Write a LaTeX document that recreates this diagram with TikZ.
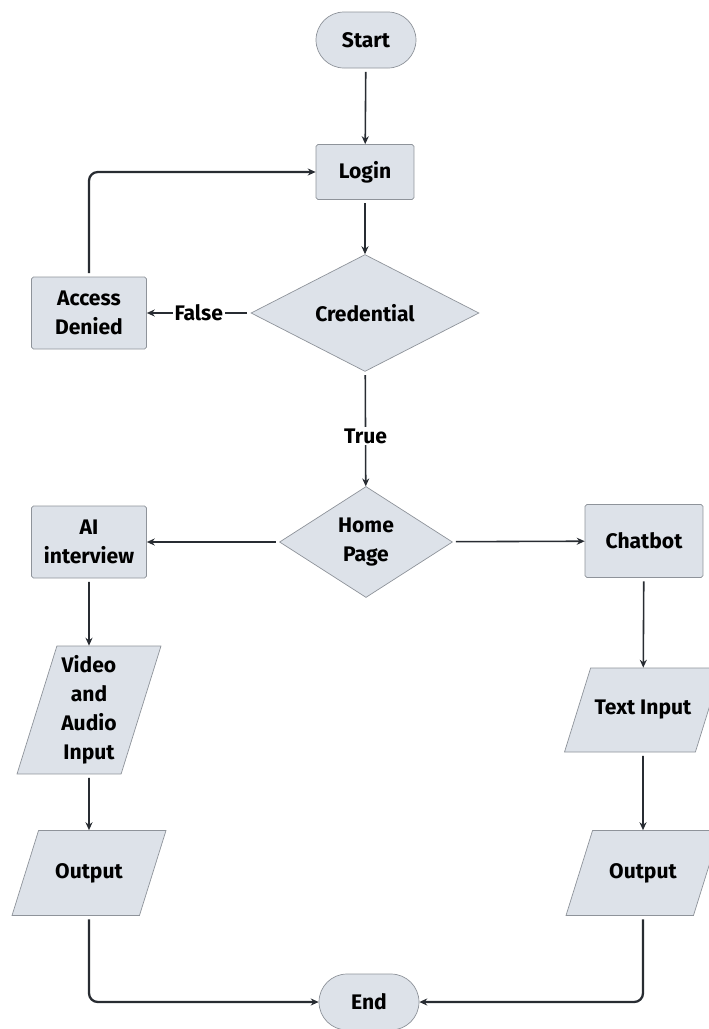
\documentclass[tikz,border=0pt]{standalone}
\usepackage{fontspec}
\setmainfont{Fira Sans}
\usepackage{tikz}
\usetikzlibrary{shapes.geometric, arrows.meta}
\definecolor{flowfill}{RGB}{221, 226, 233}
\definecolor{flowedge}{RGB}{142, 147, 154}
\definecolor{flowline}{RGB}{40, 44, 50}

\begin{document}
\begin{tikzpicture}[
    x=0.02cm, y=-0.02cm,
    txt/.style={font=\bfseries\fontsize{12}{16.5}\selectfont, align=center},
    term/.style={txt, rectangle, rounded corners=0.56cm, draw=flowedge, fill=flowfill,
                 minimum width=2.0cm, minimum height=1.12cm, inner sep=0pt},
    proc/.style={txt, rectangle, rounded corners=1pt, draw=flowedge, fill=flowfill,
                 inner sep=0pt},
    decide/.style={txt, diamond, draw=flowedge, fill=flowfill, inner sep=0pt},
    io/.style={txt, trapezium, trapezium left angle=72, trapezium right angle=108,
               trapezium stretches body, draw=flowedge, fill=flowfill,
               inner xsep=2pt, inner ysep=0.62cm},
    arr/.style={-{Stealth[length=4.5pt, width=4pt]}, line width=0.9pt, draw=flowline,
                shorten <=2pt},
    loop/.style={arr, line width=1.3pt, rounded corners=5pt},
    lbl/.style={txt, fill=white, inner sep=1pt},
  ]
  \useasboundingbox (0,0) rectangle (708,1029);

  % ── Login part ──────────────────────────────────
  \node[term] (start) at (366, 40) {Start};
  \node[proc, minimum width=1.96cm, minimum height=1.10cm] (login) at (365,172) {Login};
  \node[decide, minimum width=4.56cm, minimum height=2.24cm] (cred) at (365,313) {Credential};
  \node[proc, minimum width=2.30cm, minimum height=1.44cm] (denied) at (89,313) {Access\\Denied};

  \draw[arr] (start) -- (login);
  \draw[arr] (login) -- (cred);
  \draw[arr] (cred) -- node[lbl] {False} (denied);
  \draw[loop] (denied) |- (login);

  % ── Home page ───────────────────────────────────
  \node[decide, minimum width=3.46cm, minimum height=2.22cm] (home) at (366,542) {Home\\Page};
  \node[proc, minimum width=2.30cm, minimum height=1.44cm] (ai) at (89,542) {AI\\interview};
  \node[proc, minimum width=2.36cm, minimum height=1.46cm] (chat) at (644,541) {Chatbot};

  \draw[arr] (cred) -- node[lbl, pos=0.56] {True} (home);
  \draw[arr] (home) -- (ai);
  \draw[arr] (home) -- (chat);

  % ── Left branch ─────────────────────────────────
  \node[io, inner ysep=0.14cm, minimum width=2.88cm, minimum height=2.56cm] (vid) at (89,710)
        {Video\\and\\Audio\\Input};
  \node[io, minimum width=3.08cm, minimum height=1.70cm] (outl) at (89,873) {Output};

  \draw[arr] (ai) -- (vid);
  \draw[arr] (vid) -- (outl);

  % ── Right branch ────────────────────────────────
  \node[io, inner ysep=0.61cm, minimum width=3.14cm, minimum height=1.68cm] (txtin) at (643,710) {Text Input};
  \node[io, minimum width=3.08cm, minimum height=1.70cm] (outr) at (643,873) {Output};

  \draw[arr] (chat) -- (txtin);
  \draw[arr] (txtin) -- (outr);

  % ── End ─────────────────────────────────────────
  \node[term] (endn) at (369,1002) {End};

  \draw[loop] (outl) |- (endn);
  \draw[loop] (outr) |- (endn);

\end{tikzpicture}
\end{document}
